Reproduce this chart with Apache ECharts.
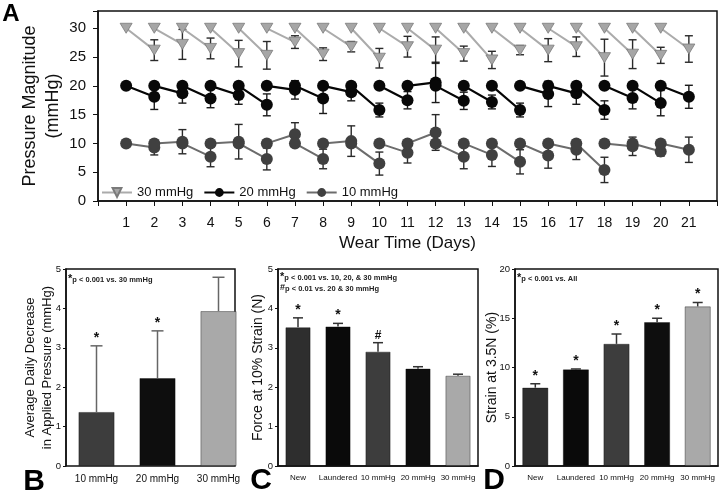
<!DOCTYPE html>
<html>
<head>
<meta charset="utf-8">
<script src="https://cdn.jsdelivr.net/npm/echarts@6/dist/echarts.min.js"></script>
<style>
  html, body { margin: 0; padding: 0; background: #fff; }
  #chart { width: 720px; height: 494px; }
</style>
</head>
<body>
<div id="chart"></div>
<script>
// ---- panel A: pressure over wear time ----
const days = [1, 2, 3, 4, 5, 6, 7, 8, 9, 10, 11, 12, 13, 14, 15, 16, 17, 18, 19, 20, 21]
const levels = ['30 mmHg', '20 mmHg', '10 mmHg']
const nominal = [30, 20, 10]
// measured value at the end of each wear day (days 2..21)
const low30 = [26.2, 27.2, 26.5, 25.6, 25.3, 27.6, 25.5, 26.8, 24.8, 26.8, 26.2, 25.6, 24.5, 26.2, 26.2, 26.8, 24.9, 25.5, 25.3, 26.4]
const err30 = [1.8, 2.6, 1.8, 2.3, 2.4, 1.1, 1.1, 0.9, 1.7, 1.8, 2.3, 1.3, 1.5, 0.8, 2.0, 1.7, 3.2, 2.5, 1.4, 2.3]
const low20 = [18.1, 18.7, 17.8, 18.4, 16.7, 19.3, 17.8, 18.9, 15.8, 17.5, 20.6, 17.4, 17.2, 15.8, 18.6, 18.7, 15.8, 17.9, 17.0, 18.1]
const err20 = [2.2, 1.7, 1.6, 1.6, 1.9, 1.6, 2.6, 1.5, 1.2, 1.5, 3.5, 1.5, 1.2, 1.2, 2.2, 1.9, 1.6, 1.9, 2.2, 2.0]
const low10 = [9.3, 10.3, 7.7, 10.3, 7.3, 11.6, 7.3, 10.4, 6.5, 8.4, 11.9, 7.7, 8.0, 6.8, 7.9, 8.9, 5.4, 9.5, 8.6, 8.9]
const err10 = [1.3, 2.1, 1.75, 3.0, 1.9, 2.0, 1.7, 2.65, 2.0, 1.8, 3.1, 2.1, 2.0, 2.1, 2.2, 1.7, 2.2, 1.6, 0.8, 2.2]

// ---- panel B ----
const catsB = ['10 mmHg', '20 mmHg', '30 mmHg']
const valB = [1.37, 2.23, 3.93]
const errB = [1.68, 1.2, 0.86]
const sigB = ['*', '*', '']

// ---- panels C and D ----
const catsCD = ['New', 'Laundered', '10 mmHg', '20 mmHg', '30 mmHg']
const valC = [3.52, 3.54, 2.9, 2.47, 2.29]
const errC = [0.24, 0.08, 0.23, 0.05, 0.04]
const sigC = ['*', '*', '#', '', '']
const valD = [7.95, 9.8, 12.4, 14.6, 16.2]
const errD = [0.4, 0.05, 1.0, 0.4, 0.4]
const sigD = ['*', '*', '*', '*', '*']

const FONT = 'Liberation Sans, Arial, sans-serif'
const colorsB = ['#3d3d3d', '#0e0e0e', '#a9a9a9']
const colorsCD = ['#2e2e2e', '#0a0a0a', '#3d3d3d', '#0e0e0e', '#a9a9a9']

const chart = echarts.init(document.getElementById('chart'))

// line pieces: start of day (nominal) -> next day measured value
const trace = (level, lows) => {
  const pts = []
  lows.forEach((v, i) => {
    pts.push([days[i], level], [days[i + 1], v], [days[i + 1], '-'])
  })
  return pts
}

const errorBars = (axis, data, opt) => ({
  type: 'custom',
  xAxisIndex: axis,
  yAxisIndex: axis,
  z: opt.z || 4,
  silent: true,
  data: data,
  encode: { x: 0, y: [1, 2] },
  renderItem: (params, api) => {
    const x = api.value(0)
    const lo = api.coord([x, api.value(1)])
    const hi = api.coord([x, api.value(2)])
    const hw = opt.cap / 2
    const st = { stroke: opt.color, lineWidth: opt.width }
    const children = [
      { type: 'line', shape: { x1: lo[0], y1: lo[1], x2: hi[0], y2: hi[1] }, style: st },
      { type: 'line', shape: { x1: hi[0] - hw, y1: hi[1], x2: hi[0] + hw, y2: hi[1] }, style: st }
    ]
    if (opt.both) {
      children.push({ type: 'line', shape: { x1: lo[0] - hw, y1: lo[1], x2: lo[0] + hw, y2: lo[1] }, style: st })
    }
    const mark = opt.marks ? opt.marks[params.dataIndex] : ''
    if (mark) {
      children.push({
        type: 'text',
        style: {
          text: mark, x: hi[0], y: hi[1] - 1, align: 'center', verticalAlign: 'bottom',
          fontSize: mark === '#' ? 12 : 14, fontWeight: 'bold', fontFamily: FONT, fill: '#111'
        }
      })
    }
    return { type: 'group', children }
  }
})

const barErr = (vals, errs) => vals.map((v, i) => [i, v, v + errs[i]])
const lineErr = (lows, errs) => lows.map((v, i) => [days[i + 1], v - errs[i], v + errs[i]])

const frame = { show: true, borderColor: '#111', borderWidth: 1.5, backgroundColor: 'transparent' }
const axisLine = { show: true, lineStyle: { color: '#111', width: 1.5 } }
const tickOut = (len) => ({ show: true, inside: false, length: len, lineStyle: { color: '#111', width: 1 } })

const catAxis = (idx, cats, size, showLine) => ({
  type: 'category', gridIndex: idx, data: cats,
  axisLine: showLine ? axisLine : { show: false },
  axisTick: { show: false },
  axisLabel: { fontFamily: FONT, fontSize: size, color: '#111', margin: 8, interval: 0 },
  splitLine: { show: false }
})

const barYAxis = (idx, max, step, name, gap) => ({
  type: 'value', gridIndex: idx, min: 0, max: max, interval: step,
  axisLine: axisLine, axisTick: tickOut(3),
  axisLabel: { fontFamily: FONT, fontSize: 9.5, color: '#111', margin: 5 },
  splitLine: { show: false },
  name: name, nameLocation: 'middle', nameRotate: 90, nameGap: gap, nameMoveOverlap: false,
  nameTextStyle: { fontFamily: FONT, fontSize: idx === 1 ? 13 : 14, color: '#111', lineHeight: 17 }
})

const barSeries = (idx, vals, colors, width) => ({
  type: 'bar', xAxisIndex: idx, yAxisIndex: idx, data: vals, barWidth: width, z: 2,
  silent: true,
  itemStyle: { color: p => colors[p.dataIndex], borderColor: 'rgba(0,0,0,0.45)', borderWidth: 0.8 }
})

const note = (x, y, mark, text) => ({
  type: 'text', left: x, top: y,
  style: {
    text: '{m|' + mark + '}{t|' + text + '}',
    rich: {
      m: { fontFamily: FONT, fontSize: mark === '#' ? 9 : 11, fontWeight: 'bold', fill: '#111' },
      t: { fontFamily: FONT, fontSize: 7.5, fontWeight: 'bold', fill: '#222', padding: [3, 0, 0, 0] }
    }
  }
})

const letter = (x, y, t, size) => ({
  type: 'text', x: x, y: y,
  style: { text: t, fontFamily: FONT, fontWeight: 'bold', fontSize: size, fill: '#000', align: 'center', verticalAlign: 'middle' }
})

const option = {
  backgroundColor: '#fff',
  animation: false,
  textStyle: { fontFamily: FONT },
  grid: [
    Object.assign({ left: 98, top: 11, width: 620, height: 190 }, frame),
    { left: 66, top: 269, width: 183, height: 197, show: false },
    Object.assign({ left: 278, top: 269, width: 200, height: 197 }, frame),
    Object.assign({ left: 515, top: 269, width: 203, height: 197 }, frame),
    Object.assign({ left: 66, top: 269, width: 169, height: 197 }, frame)
  ],
  legend: {
    data: levels, left: 101, top: 186, padding: 0,
    itemWidth: 30, itemHeight: 11, itemGap: 10,
    textStyle: { fontFamily: FONT, fontSize: 13, color: '#111' }
  },
  xAxis: [
    {
      type: 'value', gridIndex: 0, min: 0, max: 22, interval: 1,
      axisLine: axisLine, axisTick: tickOut(5),
      axisLabel: { fontFamily: FONT, fontSize: 14, color: '#111', margin: 15,
        formatter: v => (v >= days[0] && v <= days[days.length - 1]) ? String(v) : '' },
      splitLine: { show: false },
      name: 'Wear Time (Days)', nameLocation: 'middle', nameGap: 34,
      nameTextStyle: { fontFamily: FONT, fontSize: 17, color: '#111' }
    },
    catAxis(1, catsB, 10, false),
    catAxis(2, catsCD, 8, true),
    catAxis(3, catsCD, 8, true),
    { type: 'value', gridIndex: 4, show: false, min: 0, max: 1 }
  ],
  yAxis: [
    {
      type: 'value', gridIndex: 0, min: 0, max: 33, interval: 5,
      axisLine: axisLine, axisTick: tickOut(5),
      axisLabel: { fontFamily: FONT, fontSize: 15, color: '#111', margin: 12,
        formatter: v => v % 5 === 0 ? String(v) : '' },
      splitLine: { show: false },
      name: 'Pressure Magnitude\n(mmHg)', nameLocation: 'middle', nameRotate: 90, nameGap: 33,
      nameMoveOverlap: false,
      nameTextStyle: { fontFamily: FONT, fontSize: 18, color: '#111', lineHeight: 23 }
    },
    barYAxis(1, 5, 1, 'Average Daily Decrease\nin Applied Pressure (mmHg)', 10),
    barYAxis(2, 5, 1, 'Force at 10% Strain (N)', 11),
    barYAxis(3, 20, 5, 'Strain at 3.5N (%)', 14),
    { type: 'value', gridIndex: 4, show: false, min: 0, max: 1 }
  ],
  series: [
    {
      name: levels[0], type: 'line', xAxisIndex: 0, yAxisIndex: 0, z: 5,
      data: trace(nominal[0], low30),
      symbol: 'triangle', symbolRotate: 180, symbolSize: [12, 10],
      lineStyle: { color: '#ababab', width: 2 },
      itemStyle: { color: '#a6a6a6', borderColor: '#7a7a7a', borderWidth: 0.8 }
    },
    {
      name: levels[1], type: 'line', xAxisIndex: 0, yAxisIndex: 0, z: 5,
      data: trace(nominal[1], low20),
      symbol: 'circle', symbolSize: 12,
      lineStyle: { color: '#050505', width: 2.2 },
      itemStyle: { color: '#080808' }
    },
    {
      name: levels[2], type: 'line', xAxisIndex: 0, yAxisIndex: 0, z: 5,
      data: trace(nominal[2], low10),
      symbol: 'circle', symbolSize: 12,
      lineStyle: { color: '#6c6c6c', width: 2 },
      itemStyle: { color: '#404040' }
    },
    errorBars(0, lineErr(low30, err30), { cap: 8, color: '#2a2a2a', width: 1.4, both: true, z: 4 }),
    errorBars(0, lineErr(low20, err20), { cap: 8, color: '#1a1a1a', width: 1.4, both: true, z: 4 }),
    errorBars(0, lineErr(low10, err10), { cap: 8, color: '#2a2a2a', width: 1.4, both: true, z: 4 }),

    barSeries(1, valB, colorsB, 36),
    errorBars(1, barErr(valB, errB), { cap: 12, color: '#666', width: 1.5, marks: sigB }),
    barSeries(2, valC, colorsCD, 25),
    errorBars(2, barErr(valC, errC), { cap: 10, color: '#333', width: 1.5, marks: sigC }),
    barSeries(3, valD, colorsCD, 26),
    errorBars(3, barErr(valD, errD), { cap: 10, color: '#333', width: 1.5, marks: sigD })
  ],
  graphic: [
    letter(11, 14, 'A', 24),
    letter(34, 482, 'B', 30),
    letter(261, 481, 'C', 30),
    letter(494, 481, 'D', 30),
    note(68, 273, '*', 'p < 0.001 vs. 30 mmHg'),
    note(280, 271, '*', 'p < 0.001 vs. 10, 20, & 30 mmHg'),
    note(280, 283, '#', 'p < 0.01 vs. 20 & 30 mmHg'),
    note(517, 272, '*', 'p < 0.001 vs. All')
  ]
}

chart.setOption(option)
window.addEventListener('resize', () => chart.resize())
</script>
</body>
</html>
